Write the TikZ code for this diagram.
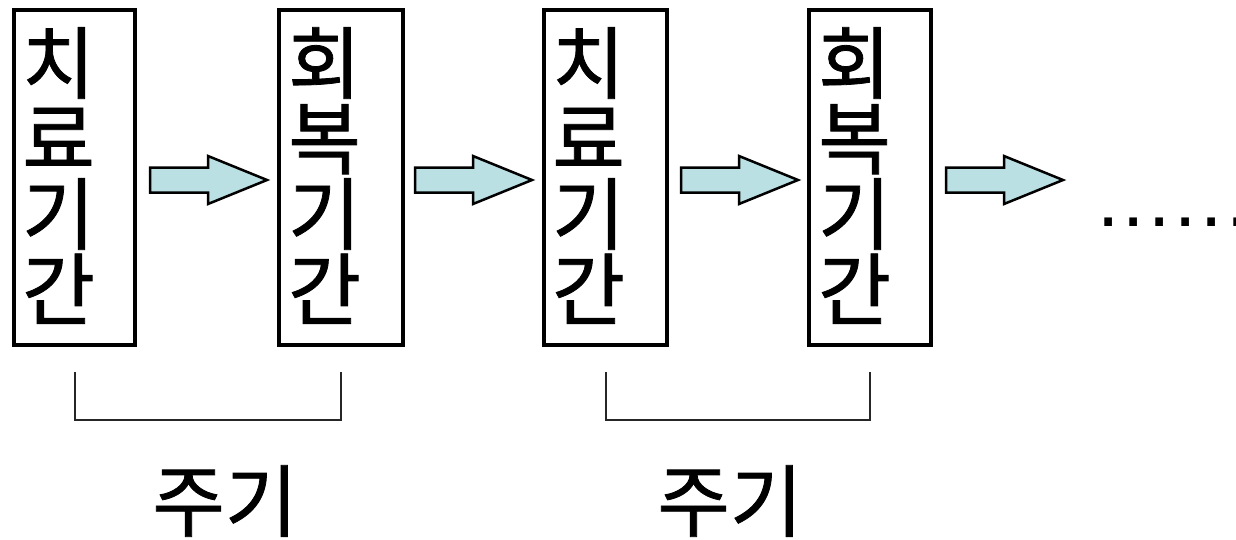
\documentclass[tikz,border=0pt]{standalone}
\usepackage{fontspec}
\setmainfont{Noto Sans CJK KR}[FakeBold=1]
\newfontfamily\dotfont{Liberation Sans}
\usetikzlibrary{calc}
\definecolor{arrowfill}{RGB}{187,224,227}
\newcommand{\sqdot}{\makebox[25.8pt][c]{.}}
\begin{document}
\begin{tikzpicture}[x=1pt,y=-1pt,
  box/.style={draw, line width=4pt, minimum height=335pt, inner sep=0pt},
  vtext/.style={font=\fontsize{79}{75.5}\selectfont, align=left, inner sep=0pt, anchor=north west},
  blockarrow/.style={draw, line width=2.5pt, fill=arrowfill, line join=miter},
  bracket/.style={draw=black!85, line width=2pt},
  label/.style={font=\fontsize{79}{79}\selectfont, inner sep=0pt},
  dotstext/.style={font=\dotfont\fontsize{80}{80}\selectfont, inner sep=0pt, anchor=base west}
]
\useasboundingbox (0,0) rectangle (1236,539);
% boxes
\node[box, minimum width=121pt] (b1) at (74.5,177.5) {};
\node[box, minimum width=124pt] (b2) at (341,177.5) {};
\node[box, minimum width=123pt] (b3) at (605.5,177.5) {};
\node[box, minimum width=122pt] (b4) at (870,177.5) {};
% texts
\node[vtext] (t1) at (22,27) {치\\료\\기\\간};
\node[vtext] (t2) at (288,27) {회\\복\\기\\간};
\node[vtext] (t3) at (552,27) {치\\료\\기\\간};
\node[vtext] (t4) at (818,27) {회\\복\\기\\간};
% arrows (start = left middle of shaft)
\coordinate (a1) at (150,180);
\coordinate (a2) at (415,180);
\coordinate (a3) at (681,180);
\coordinate (a4) at (946,180);
\foreach \a in {a1,a2,a3,a4}{
  \draw[blockarrow, shift={(\a)}] (0,-12.5) -- (58,-12.5) -- (58,-24) -- (117,0)
    -- (58,24) -- (58,12.5) -- (0,12.5) -- cycle;
}
% dots
\node[dotstext] (dots) at (1095.1,226.5) {\sqdot\sqdot\sqdot\sqdot\sqdot\sqdot};
% brackets
\coordinate (c1) at (b1.center |- 0,372);
\coordinate (c2) at (b2.center |- 0,372);
\coordinate (c3) at (b3.center |- 0,372);
\coordinate (c4) at (b4.center |- 0,372);
\draw[bracket] (c1) -- ++(0,48) -| (c2);
\draw[bracket] (c3) -- ++(0,48) -| (c4);
% labels
\node[label] (p1) at (225,501) {주기};
\node[label] (p2) at (730,501) {주기};
\end{tikzpicture}
\end{document}
